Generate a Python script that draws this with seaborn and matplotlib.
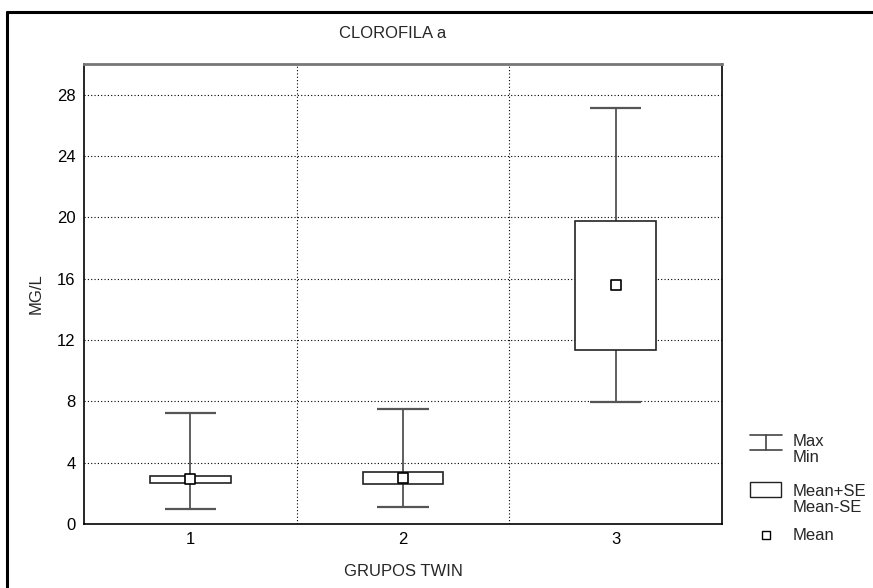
import matplotlib
matplotlib.use("Agg")
import matplotlib.pyplot as plt
import matplotlib.lines as mlines
import matplotlib.patches as mpatches
import seaborn as sns
import pandas as pd

sns.set_theme(style="white")
plt.rcParams['font.family'] = ['Liberation Sans', 'DejaVu Sans']

# values
groups = ['1', '2', '3']
g_max = [7.22, 7.52, 27.16]
g_min = [0.98, 1.08, 7.95]
se_hi = [3.16, 3.42, 19.77]
se_lo = [2.67, 2.64, 11.36]
means = [2.93, 3.03, 15.56]

df = pd.DataFrame({'grp': groups, 'max': g_max, 'min': g_min,
                   'hi': se_hi, 'lo': se_lo, 'mean': means})
x = list(range(1, len(groups) + 1))

fig = plt.figure(figsize=(8.73, 5.88), dpi=100)
ax = fig.add_axes([84 / 873, 1 - 524 / 588, (722 - 84) / 873, (524 - 64) / 588])

# whiskers
ax.vlines(x, df['min'], df['max'], color='#444444', lw=1.2, zorder=2)
ax.hlines(df['max'], [i - 0.12 for i in x], [i + 0.12 for i in x], color='#555555', lw=1.6, zorder=2)
ax.hlines(df['min'], [i - 0.12 for i in x], [i + 0.12 for i in x], color='#555555', lw=1.6, zorder=2)

# SE boxes
ax.bar(x, df['hi'] - df['lo'], bottom=df['lo'], width=0.38, color='white',
       edgecolor='#222222', linewidth=1.2, zorder=3)

# means
sns.scatterplot(x=x, y=df['mean'], marker='s', s=45, color='white',
                edgecolor='black', linewidth=1.2, ax=ax, zorder=4)

ax.set_xlim(0.5, 3.5)
ax.set_ylim(0, 30)
ax.set_yticks(range(0, 30, 4))
ax.set_xticks(x)
ax.set_xticklabels(groups)
ax.tick_params(axis='both', labelsize=12, length=0, pad=6, colors='black')

# dotted grid
for yv in range(4, 30, 4):
    ax.axhline(yv, color='black', lw=0.8, ls=(0, (1, 2)), zorder=1)
for xv in [1.5, 2.5]:
    ax.axvline(xv, color='black', lw=0.8, ls=(0, (1, 2)), zorder=1)

for s in ['left', 'bottom', 'right']:
    ax.spines[s].set_color('black')
    ax.spines[s].set_linewidth(1.2)
ax.spines['top'].set_color('#777777')
ax.spines['top'].set_linewidth(2)

ax.set_xlabel('GRUPOS TWIN', fontsize=12, labelpad=12)
ax.set_ylabel('MG/L', fontsize=12, labelpad=10)
fig.text(393 / 873, 1 - 33 / 588, 'CLOROFILA a', fontsize=12, ha='center', va='center')

# outer frame
fig.add_artist(mlines.Line2D([7 / 873, 1], [1 - 12 / 588, 1 - 12 / 588], color='black', lw=2.2, transform=fig.transFigure))
fig.add_artist(mlines.Line2D([7 / 873, 7 / 873], [0, 1 - 12 / 588], color='black', lw=2.2, transform=fig.transFigure))

# legend drawn in figure coordinates
def fx(p):
    return p / 873

def fy(p):
    return 1 - p / 588

lc = '#444444'
fig.add_artist(mlines.Line2D([fx(750), fx(782)], [fy(435), fy(435)], color=lc, lw=1.2))
fig.add_artist(mlines.Line2D([fx(750), fx(782)], [fy(450), fy(450)], color=lc, lw=1.2))
fig.add_artist(mlines.Line2D([fx(766), fx(766)], [fy(435), fy(450)], color=lc, lw=1.2))
fig.add_artist(mpatches.Rectangle((fx(750), fy(497)), fx(781) - fx(750), fy(482) - fy(497),
                                  facecolor='white', edgecolor='#222222', lw=1.0, transform=fig.transFigure))
fig.add_artist(mlines.Line2D([fx(766)], [fy(535)], marker='s', markersize=6, color='white',
                             markeredgecolor='black', markeredgewidth=1.0))
for txt, yy in [('Max', 441), ('Min', 458), ('Mean+SE', 491), ('Mean-SE', 508), ('Mean', 536)]:
    fig.text(fx(793), fy(yy), txt, fontsize=12, ha='left', va='center')

fig.savefig('out.png', dpi=100, facecolor='white')
